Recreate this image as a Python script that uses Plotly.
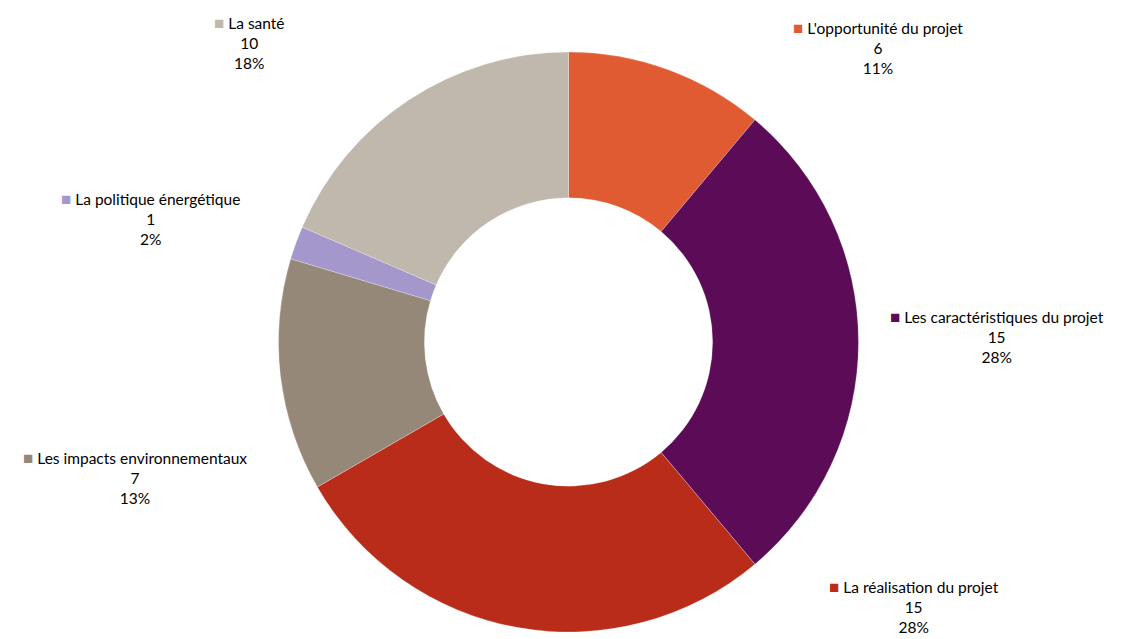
import plotly.graph_objects as go

categories = ["L'opportunité du projet", "Les caractéristiques du projet", "La réalisation du projet",
              "Les impacts environnementaux", "La politique énergétique", "La santé"]
values = [6, 15, 15, 7, 1, 10]
pct_labels = ["11%", "28%", "28%", "13%", "2%", "18%"]
colors = ["#E15B32", "#5C0B56", "#BA2C1A", "#968878", "#A397CB", "#C0B7AD"]

# label block centres in pixels (layout only)
label_pos = [(878, 47), (997, 336), (914, 606), (135, 477), (150, 218), (249, 42)]

W, H = 1125, 639
cx, cy, R = 568.5, 342, 290

fig = go.Figure(go.Pie(
    labels=categories, values=values, hole=0.497, sort=False, direction="clockwise",
    rotation=0, marker=dict(colors=colors, line=dict(color="rgba(255,255,255,0.5)", width=0.5)),
    textinfo="none", hoverinfo="label+value+percent", showlegend=False,
    domain=dict(x=[(cx - R) / W, (cx + R) / W], y=[(H - cy - R) / H, (H - cy + R) / H]),
))

for name, v, p, c, (px, py) in zip(categories, values, pct_labels, colors, label_pos):
    fig.add_annotation(
        x=px / W, y=1 - py / H, xref="paper", yref="paper", xanchor="center", yanchor="middle",
        text=f"<span style='color:{c};font-size:17px'>■</span> {name}<br>{v}<br>{p}",
        showarrow=False, align="center",
        font=dict(family="Lato, 'Open Sans', sans-serif", size=15.5, color="#000000"),
    )

fig.update_layout(width=W, height=H, margin=dict(l=0, r=0, t=0, b=0),
                  paper_bgcolor="white", plot_bgcolor="white")
fig.write_html("out.html")
